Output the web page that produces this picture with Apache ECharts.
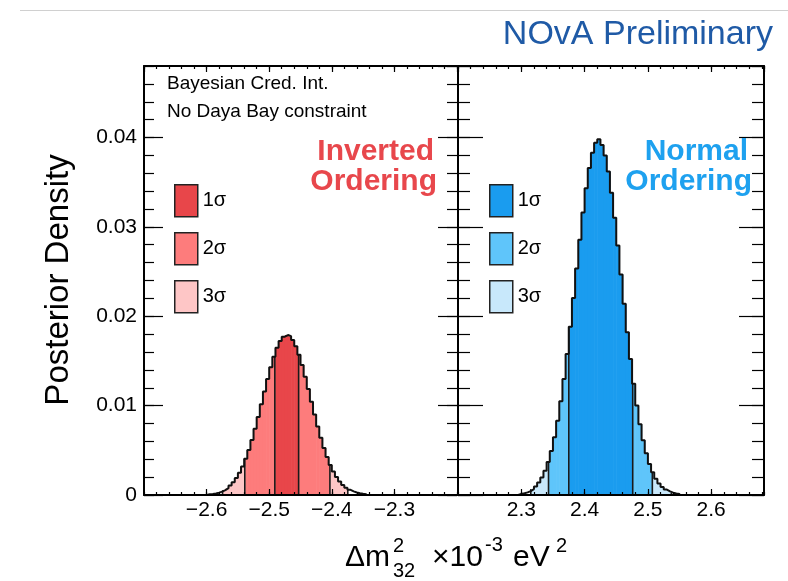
<!DOCTYPE html>
<html><head><meta charset="utf-8">
<script src="https://cdn.jsdelivr.net/npm/echarts@6/dist/echarts.min.js"></script>
<style>html,body{margin:0;padding:0;background:#fff}#c{width:788px;height:581px}</style>
</head><body><div id="c"></div><script>
// ---------------- data ----------------
const binWidth = 0.005;
const ioStart = -2.600;
const ioHeights = [0.00008,0.00012,0.00018,0.00026,0.00038,0.00054,0.00076,0.00105,0.00142,0.00190,
  0.00249,0.00320,0.00405,0.00504,0.00616,0.00740,0.00874,0.01014,0.01157,0.01297,
  0.01429,0.01548,0.01647,0.01723,0.01771,0.01790,0.01777,0.01735,0.01664,0.01569,
  0.01454,0.01324,0.01186,0.01043,0.00902,0.00766,0.00640,0.00525,0.00424,0.00336,
  0.00262,0.00201,0.00151,0.00112,0.00081,0.00058,0.00041,0.00028,0.00019,0.00013,0.00008];
const noStart = 2.295;
const noHeights = [0.00012,0.00019,0.00029,0.00044,0.00066,0.00096,0.00139,0.00196,0.00272,0.00369,
  0.00493,0.00646,0.00831,0.01049,0.01299,0.01579,0.01883,0.02205,0.02534,0.02857,
  0.03161,0.03433,0.03659,0.03828,0.03940,0.03980,0.03915,0.03800,0.03619,0.03382,
  0.03103,0.02793,0.02467,0.02140,0.01821,0.01521,0.01246,0.01002,0.00791,0.00613,
  0.00466,0.00348,0.00255,0.00183,0.00129,0.00089,0.00061,0.00040,0.00026,0.00017,0.00011];
// credible-interval edges [low, high] for 1σ, 2σ, 3σ
const ioSigma1 = [-2.491, -2.453];
const ioSigma2 = [-2.539, -2.403];
const ioSigma3 = [-2.5745, -2.3745];
const noSigma1 = [2.375, 2.476];
const noSigma2 = [2.343, 2.507];
const noSigma3 = [2.315, 2.537];
const sigmaNames = ['1σ', '2σ', '3σ'];
const ioTickValues = [-2.6, -2.5, -2.4, -2.3];
const ioTickLabels = ['−2.6', '−2.5', '−2.4', '−2.3'];
const noTickValues = [2.3, 2.4, 2.5, 2.6];
const noTickLabels = ['2.3', '2.4', '2.5', '2.6'];
const yTickValues = [0, 0.01, 0.02, 0.03, 0.04];
const yTickLabels = ['0', '0.01', '0.02', '0.03', '0.04'];

// ---------------- style ----------------
const FONT = '"Liberation Sans", Arial, Helvetica, sans-serif';
const ioColors = ['#e8464a', '#fd7c7c', '#fec6c6'];
const noColors = ['#1a9cef', '#5fc5fa', '#c8e8fb'];
const G_LEFT = {left: 144, top: 66, width: 313, height: 429};
const G_RIGHT = {left: 458, top: 66, width: 306, height: 429};
const X_L = [-2.7, -2.2];
const X_R = [2.2, 2.2 + 306 / 633];

function binRows(start, heights) {
  return heights.map((h, i) => [start + i * binWidth, start + (i + 1) * binWidth, h]);
}
function outline(start, heights) {
  const pts = [[start, 0]];
  heights.forEach((h, i) => {
    pts.push([start + i * binWidth, h]);
    pts.push([start + (i + 1) * binWidth, h]);
  });
  pts.push([start + heights.length * binWidth, 0]);
  return pts;
}
function heightAt(start, heights, x) {
  const i = Math.floor((x - start) / binWidth);
  return (i >= 0 && i < heights.length) ? heights[i] : 0;
}
function fmt(values, labels) {
  return v => { const k = values.findIndex(t => Math.abs(t - v) < 1e-6); return k >= 0 ? labels[k] : ''; };
}

function fillSeries(name, axisIdx, rows, regions, color) {
  return {
    type: 'custom', name: name, xAxisIndex: axisIdx, yAxisIndex: axisIdx, z: 2,
    itemStyle: {color: color}, encode: {x: [0, 1], y: 2}, data: rows, animation: false,
    renderItem: function (params, api) {
      const lo = api.value(0), hi = api.value(1), h = api.value(2);
      const children = [];
      regions.forEach(function (rg) {
        const l = Math.max(lo, rg[0]), r = Math.min(hi, rg[1]);
        if (r > l) {
          const p1 = api.coord([l, h]), p2 = api.coord([r, 0]);
          children.push({type: 'rect', shape: {x: p1[0], y: p1[1], width: p2[0] - p1[0] + 0.6, height: p2[1] - p1[1]},
            style: {fill: color}});
        }
      });
      return {type: 'group', children: children};
    }
  };
}
function orderingSeries(prefix, axisIdx, start, heights, s1, s2, s3, colors) {
  const rows = binRows(start, heights);
  const regions = [[s1], [[s2[0], s1[0]], [s1[1], s2[1]]], [[s3[0], s2[0]], [s2[1], s3[1]]]];
  const out = regions.map((rg, k) => fillSeries(prefix + ' ' + sigmaNames[k], axisIdx, rows, rg, colors[k]));
  out.push({
    type: 'line', xAxisIndex: axisIdx, yAxisIndex: axisIdx, z: 4, data: outline(start, heights),
    showSymbol: false, symbol: 'none', animation: false, silent: true,
    lineStyle: {color: '#111', width: 2}
  });
  const edges = [s1[0], s1[1], s2[0], s2[1], s3[0], s3[1]].map(x => [x, heightAt(start, heights, x)]);
  out.push({
    type: 'custom', xAxisIndex: axisIdx, yAxisIndex: axisIdx, z: 3, data: edges, encode: {x: 0, y: 1},
    animation: false, silent: true,
    renderItem: function (params, api) {
      const a = api.coord([api.value(0), 0]), b = api.coord([api.value(0), api.value(1)]);
      return {type: 'line', shape: {x1: a[0], y1: a[1], x2: b[0], y2: b[1]}, style: {stroke: '#1a1a1a', lineWidth: 1.6}};
    }
  });
  return out;
}

// ---------------- axes ----------------
const grids = [G_LEFT, G_LEFT, G_RIGHT, G_RIGHT].map(g => Object.assign({show: false, outerBoundsMode: 'none', containLabel: false}, g));
function xAx(gi, pos, ext, interval, len, main, labelFmt) {
  return {
    type: 'value', gridIndex: gi, position: pos, min: ext[0], max: ext[1], interval: interval, z: 10,
    axisLine: {show: main, onZero: false, lineStyle: {color: '#000', width: 2}},
    axisTick: {show: true, inside: true, length: len, lineStyle: {color: '#000', width: 1.2}},
    axisLabel: labelFmt ? {show: true, formatter: labelFmt, fontSize: 21, color: '#000', fontFamily: FONT, margin: 5,
      showMinLabel: false, showMaxLabel: false} : {show: false},
    splitLine: {show: false}
  };
}
function yAx(gi, pos, interval, len, main, labelFmt) {
  return {
    type: 'value', gridIndex: gi, position: pos, min: 0, max: 0.048, interval: interval, z: 10,
    axisLine: {show: main, onZero: false, lineStyle: {color: '#000', width: 2}},
    axisTick: {show: true, inside: true, length: len, lineStyle: {color: '#000', width: 1.2}},
    axisLabel: labelFmt ? {show: true, formatter: labelFmt, fontSize: 21, color: '#000', fontFamily: FONT, margin: 7,
      showMaxLabel: false} : {show: false},
    splitLine: {show: false}
  };
}
const xAxes = [
  xAx(0, 'bottom', X_L, 0.1, 6, true, fmt(ioTickValues, ioTickLabels)),
  xAx(0, 'top', X_L, 0.1, 6, true, null),
  xAx(1, 'bottom', X_L, 0.02, 3, false, null),
  xAx(1, 'top', X_L, 0.02, 3, false, null),
  xAx(2, 'bottom', X_R, 0.1, 6, true, fmt(noTickValues, noTickLabels)),
  xAx(2, 'top', X_R, 0.1, 6, true, null),
  xAx(3, 'bottom', X_R, 0.02, 3, false, null),
  xAx(3, 'top', X_R, 0.02, 3, false, null)
];
const yAxes = [
  yAx(0, 'left', 0.01, 19, true, fmt(yTickValues, yTickLabels)),
  yAx(0, 'right', 0.01, 19, false, null),
  yAx(1, 'left', 0.002, 10, false, null),
  yAx(1, 'right', 0.002, 10, false, null),
  yAx(2, 'left', 0.01, 25, true, null),
  yAx(2, 'right', 0.01, 25, true, null),
  yAx(3, 'left', 0.002, 12, false, null),
  yAx(3, 'right', 0.002, 12, false, null)
];

const series = [].concat(
  orderingSeries('IO', 0, ioStart, ioHeights, ioSigma1, ioSigma2, ioSigma3, ioColors),
  orderingSeries('NO', 4, noStart, noHeights, noSigma1, noSigma2, noSigma3, noColors)
);

function legendDef(prefix, left) {
  return {
    data: sigmaNames.map(s => prefix + ' ' + s), orient: 'vertical', left: left, top: 184,
    itemWidth: 23, itemHeight: 32, itemGap: 14.5, padding: 0, selectedMode: false, icon: 'rect',
    itemStyle: {borderColor: '#222', borderWidth: 1.5},
    textStyle: {fontSize: 20, color: '#000', fontFamily: FONT},
    formatter: n => n.split(' ')[1]
  };
}

function txt(x, y, text, size, opts) {
  return {type: 'text', x: x, y: y, silent: true, z: 20,
    style: Object.assign({text: text, font: size + 'px ' + FONT, fill: '#000', align: 'left', verticalAlign: 'middle'}, opts || {})};
}
const BOLD30 = 'bold 30px ' + FONT;
const graphics = [
  {type: 'line', shape: {x1: 20, y1: 10.5, x2: 788, y2: 10.5}, style: {stroke: '#d0d0d0', lineWidth: 1}, silent: true},
  txt(773, 35, 'NOvA Preliminary', 34, {align: 'right', fill: '#1f5aa6'}),
  txt(167, 84, 'Bayesian Cred. Int.', 19),
  txt(167, 112, 'No Daya Bay constraint', 19),
  txt(434, 152, 'Inverted', 30, {align: 'right', fill: '#e8474c', font: BOLD30}),
  txt(437, 182, 'Ordering', 30, {align: 'right', fill: '#e8474c', font: BOLD30}),
  txt(748, 152, 'Normal', 30, {align: 'right', fill: '#1ea1ef', font: BOLD30}),
  txt(752, 182, 'Ordering', 30, {align: 'right', fill: '#1ea1ef', font: BOLD30}),
  Object.assign(txt(59, 280, 'Posterior Density', 33, {align: 'center'}), {rotation: Math.PI / 2}),
  txt(345, 558, 'Δm', 30),
  txt(393, 546, '2', 20),
  txt(393, 571, '32', 20),
  txt(432, 558, '×10', 30),
  txt(485, 545, '-3', 20),
  txt(513, 558, 'eV', 30),
  txt(556, 546, '2', 20)
];

const chart = echarts.init(document.getElementById('c'), null, {renderer: 'canvas'});
chart.setOption({
  animation: false,
  backgroundColor: '#fff',
  textStyle: {fontFamily: FONT},
  grid: grids,
  xAxis: xAxes,
  yAxis: yAxes,
  legend: [legendDef('IO', 174), legendDef('NO', 489)],
  series: series,
  graphic: graphics
});
</script></body></html>
